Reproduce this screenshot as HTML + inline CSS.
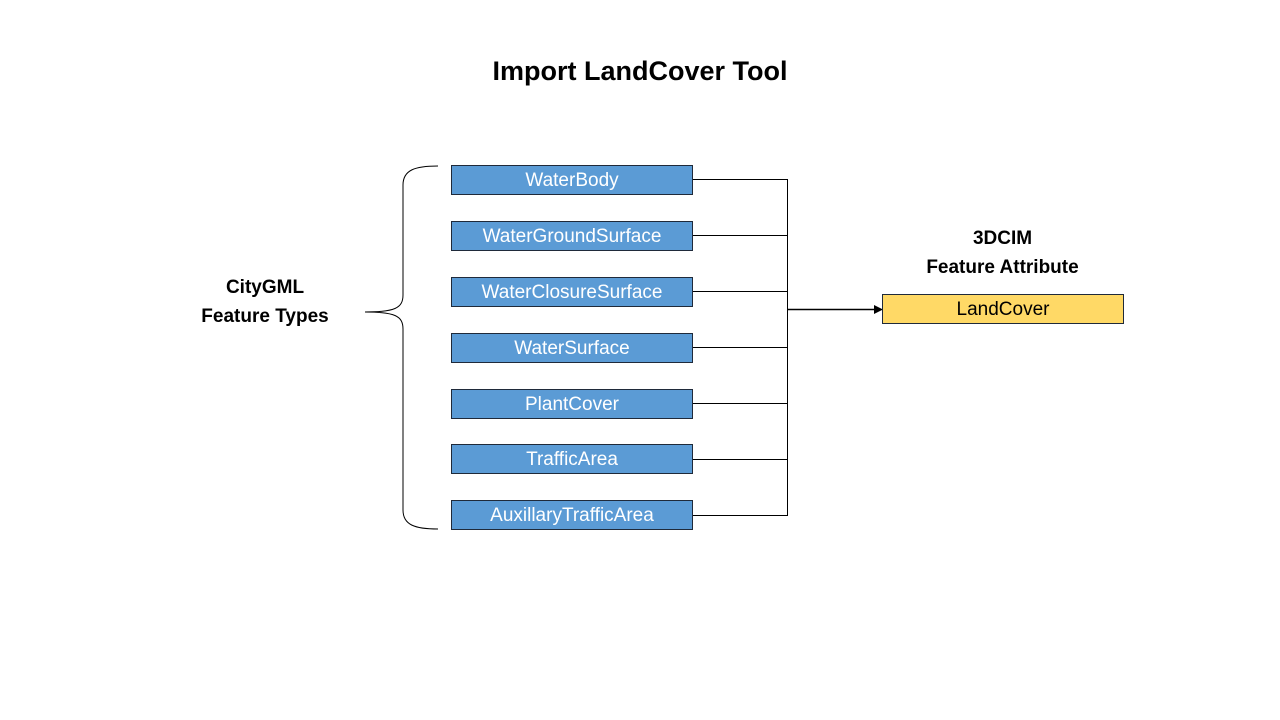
<!DOCTYPE html>
<html><head><style>
body{margin:0;width:1280px;height:720px;background:#fff;position:relative;font-family:"Liberation Sans",sans-serif;overflow:hidden}
.t{position:absolute;text-align:center;font-weight:bold;color:#000}
.b{position:absolute;left:451px;width:240px;height:28px;background:#5b9bd5;border:1px solid #1f2a3a;color:#fff;font-size:19px;line-height:30px;text-align:center}
</style></head><body>
<div class="t" style="left:0;width:1280px;top:56px;font-size:27px">Import LandCover Tool</div>
<div class="t" style="left:160px;width:210px;top:273px;font-size:19px;line-height:29px">CityGML<br>Feature Types</div>
<div class="t" style="left:880px;width:245px;top:224px;font-size:19px;line-height:29px">3DCIM<br>Feature Attribute</div>
<svg width="1280" height="720" style="position:absolute;left:0;top:0">
<g stroke="#000" stroke-width="1" fill="none">
<path d="M692 179.5H787.5M692 235.5H787.5M692 291.5H787.5M692 347.5H787.5M692 403.5H787.5M692 459.5H787.5M692 515.5H787.5M787.5 179V516"/>
<path d="M787 309.5H876" stroke-width="1.5"/>
<path d="M438 166 C415 166 403 170 403 185 V295 C403 308 395 312 365 312 C395 312 403 316 403 329 V510 C403 525 415 529 438 529"/>
</g>
<polygon points="883,309.5 874,305 874,314" fill="#000"/>
</svg>
<div class="b" style="top:165px">WaterBody</div>
<div class="b" style="top:221px">WaterGroundSurface</div>
<div class="b" style="top:277px">WaterClosureSurface</div>
<div class="b" style="top:333px">WaterSurface</div>
<div class="b" style="top:389px">PlantCover</div>
<div class="b" style="top:444px">TrafficArea</div>
<div class="b" style="top:500px">AuxillaryTrafficArea</div>
<div class="b" style="left:882px;top:294px;background:#ffd966;color:#000">LandCover</div>
</body></html>
